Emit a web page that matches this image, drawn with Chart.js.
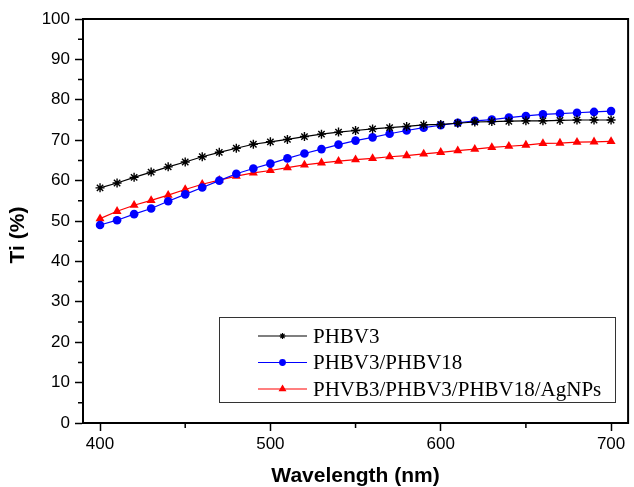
<!DOCTYPE html>
<html>
<head>
<meta charset="utf-8">
<script src="https://cdn.jsdelivr.net/npm/chart.js@4.4.1/dist/chart.umd.min.js"></script>
<style>
  body { margin: 0; background: #fff; }
  canvas { display: block; }
</style>
</head>
<body>
<canvas id="tiChart" width="634" height="487"></canvas>
<script>
// values, every 10 nm
const wavelengths = [400, 410, 420, 430, 440, 450, 460, 470, 480, 490, 500, 510, 520, 530, 540, 550,
  560, 570, 580, 590, 600, 610, 620, 630, 640, 650, 660, 670, 680, 690, 700];
const phbv3 = [58.2, 59.4, 60.8, 62.1, 63.4, 64.6, 65.9, 67.0, 68.0, 69.0, 69.6, 70.2, 70.9, 71.5, 72.0, 72.4,
  72.8, 73.1, 73.4, 73.8, 73.9, 74.2, 74.5, 74.6, 74.7, 74.8, 74.8, 74.9, 75.0, 75.0, 75.0];
const phbv3Phbv18 = [49.0, 50.2, 51.7, 53.1, 54.9, 56.6, 58.3, 60.0, 61.7, 63.0, 64.2, 65.5, 66.7, 67.8, 68.9, 69.9,
  70.7, 71.6, 72.4, 73.1, 73.7, 74.3, 74.8, 75.1, 75.6, 76.0, 76.4, 76.6, 76.8, 77.0, 77.2];
const agNps = [50.6, 52.4, 53.9, 55.1, 56.4, 57.8, 59.1, 60.1, 61.1, 61.9, 62.5, 63.2, 63.9, 64.4, 64.8, 65.2,
  65.5, 65.9, 66.2, 66.6, 67.0, 67.4, 67.8, 68.2, 68.5, 68.8, 69.2, 69.3, 69.5, 69.6, 69.7];
const seriesNames = ["PHBV3", "PHBV3/PHBV18", "PHVB3/PHBV3/PHBV18/AgNPs"];

const toPoints = vals => vals.map((v, i) => ({ x: wavelengths[i], y: v }));
const sansFont = 'Arial, "Liberation Sans", sans-serif';

const framePlugin = {
  id: 'frameAndLegend',
  afterDraw(chart) {
    const { ctx, chartArea: a, scales } = chart;
    const xs = scales.x, ys = scales.y;
    ctx.save();
    ctx.strokeStyle = '#000';
    ctx.lineWidth = 2;
    ctx.strokeRect(a.left, a.top, a.right - a.left, a.bottom - a.top);

    // minor ticks
    ctx.lineWidth = 1.5;
    ctx.beginPath();
    for (let v = 450; v < 700; v += 100) {
      const px = xs.getPixelForValue(v);
      ctx.moveTo(px, a.bottom);
      ctx.lineTo(px, a.bottom + 5);
    }
    for (let v = 5; v < 100; v += 10) {
      const py = ys.getPixelForValue(v);
      ctx.moveTo(a.left - 5, py);
      ctx.lineTo(a.left, py);
    }
    ctx.stroke();

    // axis titles
    ctx.fillStyle = '#000';
    ctx.font = 'bold 21px ' + sansFont;
    ctx.textAlign = 'center';
    ctx.textBaseline = 'alphabetic';
    ctx.fillText('Wavelength (nm)', (a.left + a.right) / 2, 482);
    ctx.save();
    ctx.translate(24, 235);
    ctx.rotate(-Math.PI / 2);
    ctx.fillText('Ti (%)', 0, 0);
    ctx.restore();

    // legend box
    ctx.lineWidth = 1;
    ctx.strokeStyle = '#333';
    ctx.strokeRect(219.5, 317.5, 396, 85);
    ctx.font = '21px "Liberation Serif", "Times New Roman", serif';
    ctx.textAlign = 'left';
    ctx.textBaseline = 'middle';
    chart.data.datasets.forEach((ds, i) => {
      const ry = 336 + i * 26.5;
      ctx.strokeStyle = ds.borderColor;
      ctx.lineWidth = 1.2;
      ctx.beginPath();
      ctx.moveTo(258, ry);
      ctx.lineTo(307, ry);
      ctx.stroke();
      ctx.fillStyle = ds.pointBackgroundColor;
      ctx.strokeStyle = ds.pointBorderColor;
      Chart.helpers.drawPoint(ctx, {
        pointStyle: ds.pointStyle, radius: ds.pointRadius * 0.65, rotation: 0, borderWidth: 1
      }, 282.5, ry);
      ctx.fillStyle = '#000';
      ctx.fillText(ds.label, 313, ry + 1);
    });
    ctx.restore();
  }
};

new Chart(document.getElementById('tiChart'), {
  type: 'line',
  data: {
    datasets: [
      {
        label: seriesNames[0], data: toPoints(phbv3),
        borderColor: '#000', borderWidth: 1.2,
        pointStyle: 'star', pointRadius: 4.5, pointBorderWidth: 1.4,
        pointBorderColor: '#000', pointBackgroundColor: '#000'
      },
      {
        label: seriesNames[1], data: toPoints(phbv3Phbv18),
        borderColor: '#0000ff', borderWidth: 1.2,
        pointStyle: 'circle', pointRadius: 4.3, pointBorderWidth: 0,
        pointBorderColor: '#0000ff', pointBackgroundColor: '#0000ff'
      },
      {
        label: seriesNames[2], data: toPoints(agNps),
        borderColor: '#ff0000', borderWidth: 1.2,
        pointStyle: 'triangle', pointRadius: 5.2, pointBorderWidth: 0,
        pointBorderColor: '#ff0000', pointBackgroundColor: '#ff0000'
      }
    ]
  },
  options: {
    responsive: false,
    animation: false,
    devicePixelRatio: 1,
    layout: { padding: { top: 19, right: 1, left: 0, bottom: 0 } },
    plugins: { legend: { display: false }, tooltip: { enabled: false } },
    elements: { line: { tension: 0 } },
    scales: {
      x: {
        type: 'linear', min: 390, max: 710,
        grid: {
          drawOnChartArea: false, tickLength: 8, tickWidth: 1.5,
          tickColor: c => (c.tick && c.tick.value % 100 === 0) ? '#000' : 'rgba(0,0,0,0)'
        },
        border: { color: '#000', width: 2 },
        ticks: {
          stepSize: 50, includeBounds: false, maxRotation: 0, padding: 3,
          color: '#000', font: { family: sansFont, size: 17 },
          callback: v => v % 100 === 0 ? v : ''
        },
        afterFit: s => { s.height = 64; s.paddingLeft = 0; s.paddingRight = 0; }
      },
      y: {
        min: 0, max: 100,
        grid: {
          drawOnChartArea: false, tickLength: 8, tickWidth: 1.5,
          tickColor: c => (c.tick && c.tick.value % 10 === 0) ? '#000' : 'rgba(0,0,0,0)'
        },
        border: { color: '#000', width: 2 },
        ticks: {
          stepSize: 5, padding: 5,
          color: '#000', font: { family: sansFont, size: 17 },
          callback: v => v % 10 === 0 ? v : ''
        },
        afterFit: s => { s.width = 83; s.paddingTop = 0; s.paddingBottom = 0; }
      }
    }
  },
  plugins: [framePlugin]
});
</script>
</body>
</html>
